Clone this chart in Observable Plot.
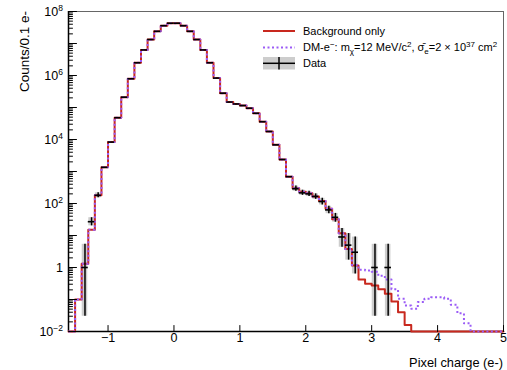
<!DOCTYPE html>
<html><head><meta charset="utf-8">
<script src="https://cdn.jsdelivr.net/npm/d3@7"></script>
<script src="https://cdn.jsdelivr.net/npm/@observablehq/plot@0.6"></script>
<style>
body{margin:0;background:#fff;}
#chart{width:507px;height:370px;}
svg{font-family:"Liberation Sans",Arial,Helvetica,sans-serif;}
</style></head><body><div id="chart"></div>
<script>
// ---- data ----
const binLow = [-1.6,-1.5,-1.4,-1.3,-1.2,-1.1,-1.0,-0.9,-0.8,-0.7,-0.6,-0.5,-0.4,-0.3,-0.2,-0.1,
  0.0,0.1,0.2,0.3,0.4,0.5,0.6,0.7,0.8,0.9,1.0,1.1,1.2,1.3,1.4,1.5,1.6,1.7,1.8,1.9,
  2.0,2.1,2.2,2.3,2.4,2.5,2.6,2.7,2.8,2.9,3.0,3.1,3.2,3.3,3.4,3.5,3.6,3.7,3.8,3.9,
  4.0,4.1,4.2,4.3,4.4,4.5,4.6,4.7,4.8,4.9];
const background = [0,0.1,1.3,15,180,1350,8300,48000,210000,790000,2500000,6300000,13300000,24000000,36000000,43000000,
  43000000,36000000,24000000,13300000,6300000,2500000,830000,280000,148000,129000,115000,95000,66000,36000,17800,6800,2370,690,300,235,
  210,166,120,68,32,11.7,3.8,1.15,0.42,0.31,0.275,0.21,0.15,0.087,0.04,0.016,0,0,0,0,
  0,0,0,0,0,0,0,0,0,0];
const darkMatter = [0,0.1,1.3,15,180,1350,8300,48000,210000,790000,2500000,6300000,13300000,24000000,36000000,43000000,
  43000000,36000000,24000000,13300000,6300000,2500000,830000,280000,148000,129000,115000,95000,66000,36000,17800,6800,2370,690,300,235,
  210,166,120,68,32,11.7,3.8,1.2,0.85,0.81,0.74,0.55,0.42,0.21,0.105,0.065,0.051,0.083,0.105,0.117,
  0.117,0.105,0.068,0.037,0.018,0,0,0,0,0];
const dataBin = [-1.4,-1.3,-1.2,-1.1,-1.0,-0.9,-0.8,-0.7,-0.6,-0.5,-0.4,-0.3,-0.2,-0.1,0.0,0.1,0.2,0.3,0.4,0.5,0.6,0.7,
  0.8,0.9,1.0,1.1,1.2,1.3,1.4,1.5,1.6,1.7,1.8,1.9,2.0,2.1,2.2,2.3,2.4,2.5,2.6,2.7,3.0,3.2];
const dataCount = [1,27,180,1350,8300,48000,210000,790000,2500000,6300000,13300000,24000000,36000000,43000000,43000000,36000000,24000000,13300000,6300000,2500000,830000,280000,
  148000,129000,115000,95000,66000,36000,17800,6800,2370,690,290,215,200,166,115,63,37,9,5,3,1,1];
const errBin  = [-1.4,-1.3,-1.2,1.8,1.9,2.0,2.1,2.2,2.3,2.4,2.5,2.6,2.7,3.0,3.2];
const errLow  = [0.03,20,150,240,180,165,135,90,48,26,4.3,1.7,0.63,0.03,0.03];
const errHigh = [5.3,36,215,350,260,240,200,145,82,49,16.6,11.5,8.9,5.3,5.3];
const xTicks = [-1,0,1,2,3,4,5];
const yLabelValues = [1e-2,1,1e2,1e4,1e6,1e8];
const yLabelExp = ["\u22122",null,"2","4","6","8"];
const legendLabels = ["Background only","DM-e","Data"];

// ---- helpers ----
const binWidth = 0.1, yMin = 0.01;
const xMin = -1.6, xMax = 5;
const red = "#c8281e", violet = "#9b5cf6";
function stepPoints(vals){
  const pts = binLow.map((x,i)=>({x, y: Math.max(vals[i], yMin)}));
  pts.push({x: binLow[binLow.length-1]+binWidth, y: Math.max(vals[vals.length-1], yMin)});
  return pts;
}
const majorY = d3.range(-2, 9).map(k => Math.pow(10, k));
const minorY = [];
for (let k = -2; k < 8; k++) for (let m = 2; m <= 9; m++) minorY.push(m * Math.pow(10, k));
const tickShape = {draw(context, l) { context.moveTo(0, 0); context.lineTo(0, -l); }};

const svg = Plot.plot({
  width: 507, height: 370,
  marginLeft: 68, marginRight: 4, marginTop: 11, marginBottom: 39,
  x: {domain: [xMin, xMax], axis: null},
  y: {type: "log", domain: [yMin, 1e8], axis: null},
  style: {background: "white", fontFamily: "'Liberation Sans', Arial, sans-serif", fontSize: "12px", color: "black"},
  marks: [
    Plot.frame({stroke: "#666", strokeWidth: 1}),
    Plot.ruleX([xMin], {stroke: "black", strokeWidth: 1.5}),
    Plot.ruleY([yMin], {stroke: "black", strokeWidth: 1.5}),
    Plot.rect(errBin, {x1: errBin.map(b => b + 0.008), x2: errBin.map(b => b + 0.092), y1: errLow, y2: errHigh, fill: "#cdcdcd"}),
    Plot.line(stepPoints(background), {x: "x", y: "y", curve: "step-after", stroke: red, strokeWidth: 2}),
    Plot.line(stepPoints(darkMatter), {x: "x", y: "y", curve: "step-after", stroke: violet, strokeWidth: 2, strokeDasharray: "2 2.5", strokeLinecap: "butt"}),
    Plot.ruleX(errBin, {x: errBin.map(b => b + binWidth/2), y1: errLow, y2: errHigh, stroke: "black", strokeWidth: 1.5}),
    Plot.ruleY(dataBin, {x1: dataBin, x2: dataBin.map(b => b + binWidth), y: dataCount, stroke: "black", strokeWidth: 1.6}),
    Plot.vector(xTicks, {x: d => d, frameAnchor: "bottom", length: 6, rotate: 0, anchor: "start", shape: tickShape, stroke: "black", strokeWidth: 1}),
    Plot.vector(majorY, {y: d => d, frameAnchor: "left", length: 8, rotate: 90, anchor: "start", shape: tickShape, stroke: "black", strokeWidth: 1}),
    Plot.vector(minorY, {y: d => d, frameAnchor: "left", length: 4, rotate: 90, anchor: "start", shape: tickShape, stroke: "black", strokeWidth: 1}),
    Plot.text(xTicks, {x: d => d, frameAnchor: "bottom", dy: 10.5, text: d => d < 0 ? "\u2212" + (-d) : String(d), fontSize: 12.5, fill: "black"})
  ]
});

const xs = svg.scale("x"), ys = svg.scale("y");
const root = d3.select(svg);
// y tick labels with superscripts
const gy = root.append("g").attr("font-size", 12.5).attr("text-anchor", "end").attr("fill", "black");
yLabelValues.forEach((v, i) => {
  const t = gy.append("text").attr("x", xs.apply(xMin) - 5).attr("y", ys.apply(v) + 4.5);
  if (yLabelExp[i] === null) t.text("1");
  else { t.text("10"); t.append("tspan").attr("dy", -5).attr("font-size", 8.5).text(yLabelExp[i]); }
});
// axis titles
root.append("text").attr("x", xs.apply(xMax)).attr("y", 366.5).attr("text-anchor", "end")
  .attr("font-size", 12.8).attr("fill", "black").text("Pixel charge (e-)");
root.append("text").attr("transform", `translate(28.5,${ys.apply(1e8)}) rotate(-90)`).attr("text-anchor", "end")
  .attr("font-size", 13.5).attr("fill", "black").text("Counts/0.1 e-");

// legend
const lg = root.append("g").attr("font-size", 11).attr("fill", "black").attr("text-anchor", "start");
lg.append("line").attr("x1", 263).attr("x2", 295).attr("y1", 31).attr("y2", 31).attr("stroke", red).attr("stroke-width", 2);
lg.append("text").attr("x", 303).attr("y", 34.5).text(legendLabels[0]);
lg.append("line").attr("x1", 263).attr("x2", 295).attr("y1", 47.5).attr("y2", 47.5).attr("stroke", violet).attr("stroke-width", 2).attr("stroke-dasharray", "2 2.5");
const t2 = lg.append("text").attr("x", 303).attr("y", 51);
const parts = [[legendLabels[1],0],["\u2212",-4],[": m",0],["\u03c7",2.5],["=12 MeV/c",0],["2",-4],[", \u03c3\u0304",0],["e",2.5],["=2 \u00d7 10",0],["37",-4],[" cm",0],["2",-4]];
let cur = 0;
parts.forEach(([s, off]) => {
  const ts = t2.append("tspan").attr("dy", off - cur).text(s);
  if (off !== 0) ts.attr("font-size", 8);
  cur = off;
});
lg.append("rect").attr("x", 263).attr("y", 57).attr("width", 32).attr("height", 12.5).attr("fill", "#cdcdcd");
lg.append("line").attr("x1", 263).attr("x2", 295).attr("y1", 63.3).attr("y2", 63.3).attr("stroke", "black").attr("stroke-width", 1.5);
lg.append("line").attr("x1", 279).attr("x2", 279).attr("y1", 57).attr("y2", 69.5).attr("stroke", "black").attr("stroke-width", 1.5);
lg.append("text").attr("x", 303).attr("y", 67).text(legendLabels[2]);

document.getElementById("chart").appendChild(svg);
</script></body></html>
